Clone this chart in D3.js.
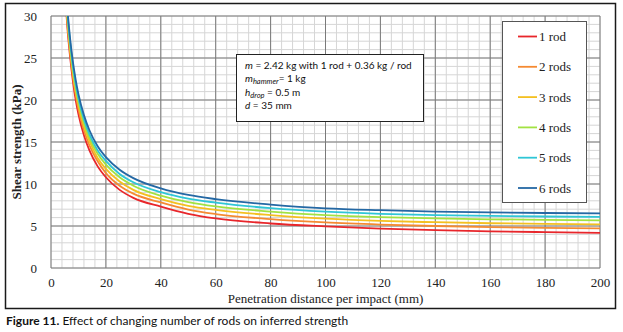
<!DOCTYPE html>
<html>
<head>
<meta charset="utf-8">
<script src="https://cdn.jsdelivr.net/npm/d3@7"></script>
<style>
  body { margin: 0; background: #fff; }
</style>
</head>
<body>
<div id="root"></div>
<script>
// penetration per impact (mm)
const penetration = [5, 6, 7, 8, 9, 10, 12, 14, 17, 20, 25, 30, 40, 50, 60, 80, 100, 120, 140, 160, 180, 200]
// shear strength (kPa)
const rod1 = [33.5, 28.5, 25.0, 22.2, 20.0, 18.3, 15.8, 14.0, 12.1, 10.8, 9.3, 8.35, 7.3, 6.45, 5.9, 5.3, 4.95, 4.68, 4.5, 4.37, 4.27, 4.18]
const rod2 = [34.0, 29.0, 25.5, 22.7, 20.6, 18.9, 16.4, 14.6, 12.7, 11.3, 9.8, 8.85, 7.8, 6.95, 6.42, 5.82, 5.42, 5.17, 5.0, 4.87, 4.78, 4.72]
const rod3 = [34.5, 29.4, 25.9, 23.2, 21.0, 19.4, 16.9, 15.1, 13.1, 11.8, 10.3, 9.3, 8.2, 7.4, 6.92, 6.3, 5.87, 5.6, 5.45, 5.33, 5.25, 5.2]
const rod4 = [35.0, 29.9, 26.3, 23.6, 21.5, 19.8, 17.3, 15.5, 13.6, 12.3, 10.8, 9.8, 8.62, 7.85, 7.33, 6.72, 6.3, 6.05, 5.9, 5.8, 5.73, 5.68]
const rod5 = [35.4, 30.3, 26.8, 24.0, 21.9, 20.2, 17.7, 15.9, 14.0, 12.75, 11.2, 10.2, 9.02, 8.25, 7.78, 7.12, 6.7, 6.45, 6.3, 6.2, 6.13, 6.08]
const rod6 = [35.9, 30.8, 27.2, 24.5, 22.4, 20.7, 18.2, 16.4, 14.5, 13.2, 11.7, 10.7, 9.48, 8.7, 8.2, 7.55, 7.1, 6.88, 6.72, 6.62, 6.55, 6.5]
const seriesNames = ['1 rod', '2 rods', '3 rods', '4 rods', '5 rods', '6 rods']
const seriesColors = ['#e8262b', '#f58a32', '#f4c020', '#a2e242', '#2fc6d6', '#2468a4']
const xTicks = [0, 20, 40, 60, 80, 100, 120, 140, 160, 180, 200]
const yTicks = [0, 5, 10, 15, 20, 25, 30]

const series = [rod1, rod2, rod3, rod4, rod5, rod6].map((values, i) => ({
  name: seriesNames[i],
  color: seriesColors[i],
  points: values.map((v, j) => ({ x: penetration[j], y: v }))
}))

const dimensions = {
  width: 623,
  height: 332,
  margin: { top: 16, right: 23, bottom: 64, left: 51 }
}
const serif = '"Liberation Serif", "DejaVu Serif", serif'
const sans = 'Lato, "Open Sans", sans-serif'

const svg = d3.select('#root').append('svg')
  .attr('width', dimensions.width)
  .attr('height', dimensions.height)

const xScale = d3.scaleLinear()
  .domain([0, 200])
  .range([dimensions.margin.left, dimensions.width - dimensions.margin.right])
const yScale = d3.scaleLinear()
  .domain([0, 30])
  .range([dimensions.height - dimensions.margin.bottom, dimensions.margin.top])

// outer frame
svg.append('rect')
  .attr('x', 5.5)
  .attr('y', 3.5)
  .attr('width', 610)
  .attr('height', 305)
  .attr('fill', 'none')
  .attr('stroke', '#1a1a1a')
  .attr('stroke-width', 1.5)

// grid
const grid = svg.append('g')
grid.selectAll('line.minor-x')
  .data(d3.range(0, 201, 4))
  .join('line')
  .attr('x1', d => xScale(d))
  .attr('x2', d => xScale(d))
  .attr('y1', yScale(0))
  .attr('y2', yScale(30))
  .attr('stroke', '#d6d6d6')
  .attr('stroke-width', 1)
grid.selectAll('line.minor-y')
  .data(d3.range(0, 31, 1))
  .join('line')
  .attr('x1', xScale(0))
  .attr('x2', xScale(200))
  .attr('y1', d => yScale(d))
  .attr('y2', d => yScale(d))
  .attr('stroke', '#d6d6d6')
  .attr('stroke-width', 1)
grid.selectAll('line.major-x')
  .data(xTicks)
  .join('line')
  .attr('x1', d => xScale(d))
  .attr('x2', d => xScale(d))
  .attr('y1', yScale(0))
  .attr('y2', yScale(30))
  .attr('stroke', '#7a7a7a')
  .attr('stroke-width', 1)
grid.selectAll('line.major-y')
  .data(yTicks)
  .join('line')
  .attr('x1', xScale(0))
  .attr('x2', xScale(200))
  .attr('y1', d => yScale(d))
  .attr('y2', d => yScale(d))
  .attr('stroke', '#7a7a7a')
  .attr('stroke-width', 1)

// axes (labels only, the grid does the lines)
svg.append('g')
  .attr('transform', `translate(0, ${yScale(0)})`)
  .call(d3.axisBottom(xScale).tickValues(xTicks).tickSize(0).tickPadding(10))
svg.append('g')
  .attr('transform', `translate(${xScale(0)}, 0)`)
  .call(d3.axisLeft(yScale).tickValues(yTicks).tickSize(0).tickPadding(14))
svg.selectAll('.domain').remove()
svg.selectAll('.tick text')
  .style('font-family', serif)
  .style('font-size', '13px')
  .attr('fill', '#222')

// curves
svg.append('clipPath')
  .attr('id', 'plot-clip')
  .append('rect')
  .attr('x', xScale(0))
  .attr('y', yScale(30))
  .attr('width', xScale(200) - xScale(0))
  .attr('height', yScale(0) - yScale(30))

const line = d3.line()
  .x(d => xScale(d.x))
  .y(d => yScale(d.y))
  .curve(d3.curveMonotoneX)

svg.append('g')
  .attr('clip-path', 'url(#plot-clip)')
  .selectAll('path')
  .data(series)
  .join('path')
  .attr('d', d => line(d.points))
  .attr('fill', 'none')
  .attr('stroke', d => d.color)
  .attr('stroke-width', 1.8)

// axis titles
svg.append('text')
  .text('Penetration distance per impact (mm)')
  .attr('x', xScale(100))
  .attr('y', 303)
  .attr('text-anchor', 'middle')
  .style('font-family', serif)
  .style('font-size', '13px')
  .attr('fill', '#222')
svg.append('text')
  .text('Shear strength (kPa)')
  .attr('transform', `translate(21, ${(yScale(0) + yScale(30)) / 2}) rotate(-90)`)
  .attr('text-anchor', 'middle')
  .style('font-family', serif)
  .style('font-size', '13px')
  .style('font-weight', 'bold')
  .attr('fill', '#222')

// annotation box
const note = svg.append('g')
note.append('rect')
  .attr('x', 236.5)
  .attr('y', 54.5)
  .attr('width', 187)
  .attr('height', 67)
  .attr('fill', '#fff')
  .attr('stroke', '#222')
  .attr('stroke-width', 1)
const noteText = note.append('text')
  .style('font-family', sans)
  .style('font-size', '10px')
  .attr('fill', '#111')
const l1 = noteText.append('tspan').attr('x', 245).attr('y', 68.5)
l1.append('tspan').text('m').style('font-style', 'italic')
l1.append('tspan').text(' = 2.42 kg with 1 rod + 0.36 kg / rod')
const l2 = noteText.append('tspan').attr('x', 245).attr('y', 82)
l2.append('tspan').text('m').style('font-style', 'italic')
l2.append('tspan').text('hammer').style('font-style', 'italic').style('font-size', '7.5px').attr('dy', 2)
l2.append('tspan').text('= 1 kg').attr('dy', -2)
const l3 = noteText.append('tspan').attr('x', 245).attr('y', 95.5)
l3.append('tspan').text('h').style('font-style', 'italic')
l3.append('tspan').text('drop').style('font-style', 'italic').style('font-size', '7.5px').attr('dy', 2)
l3.append('tspan').text(' = 0.5 m').attr('dy', -2)
const l4 = noteText.append('tspan').attr('x', 245).attr('y', 109)
l4.append('tspan').text('d').style('font-style', 'italic')
l4.append('tspan').text(' = 35 mm')

// legend
const legend = svg.append('g')
legend.append('rect')
  .attr('x', 502.5)
  .attr('y', 21.5)
  .attr('width', 84)
  .attr('height', 181)
  .attr('fill', '#fff')
  .attr('stroke', '#555')
  .attr('stroke-width', 1)
const legendItem = legend.selectAll('g.item')
  .data(series)
  .join('g')
  .attr('class', 'item')
  .attr('transform', (_d, i) => `translate(0, ${36.5 + 30.3 * i})`)
legendItem.append('line')
  .attr('x1', 518)
  .attr('x2', 537)
  .attr('stroke', d => d.color)
  .attr('stroke-width', 1.8)
legendItem.append('text')
  .text(d => d.name)
  .attr('x', 539)
  .attr('dy', '0.35em')
  .style('font-family', serif)
  .style('font-size', '13px')
  .attr('fill', '#222')

// caption
const caption = svg.append('text')
  .attr('x', 6)
  .attr('y', 325)
  .style('font-family', sans)
  .style('font-size', '12px')
  .attr('fill', '#111')
caption.append('tspan').text('Figure 11.').style('font-weight', 'bold')
caption.append('tspan').text(' Effect of changing number of rods on inferred strength')
</script>
</body>
</html>
